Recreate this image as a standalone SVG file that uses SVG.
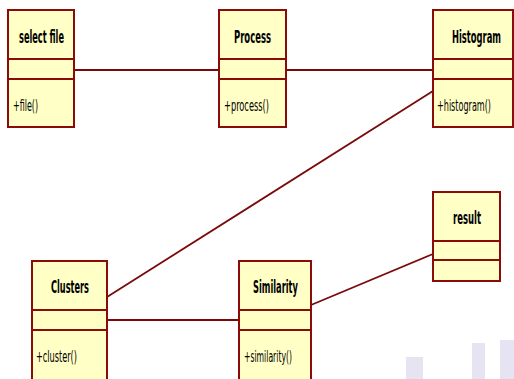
<svg xmlns="http://www.w3.org/2000/svg" width="514" height="379" viewBox="0 0 514 379">
<style>
.box{fill:#ffffc6;stroke:#8b0a0a;stroke-width:2}
.div{stroke:#8b0a0a;stroke-width:2}
.conn{stroke:#7a0a0a;stroke-width:1.8;fill:none}
.t{font-family:"DejaVu Sans Condensed","DejaVu Sans",sans-serif;font-weight:bold;font-size:18px;fill:#000}
.m{font-family:"DejaVu Sans Condensed","DejaVu Sans",sans-serif;font-size:16px;fill:#000}
</style>
<rect width="514" height="379" fill="#ffffff"/>
<g id="background" fill="#e6e4f3">
<rect x="406" y="357" width="17" height="22"/>
<rect x="472" y="343" width="13" height="36"/>
<rect x="500" y="340" width="14" height="39"/>
</g>
<g id="connectors">
<line class="conn" x1="74" y1="70" x2="219" y2="70"/>
<line class="conn" x1="286" y1="70" x2="433" y2="70"/>
<line class="conn" x1="107" y1="297" x2="433" y2="91"/>
<line class="conn" x1="107" y1="320" x2="239" y2="320"/>
<line class="conn" x1="311" y1="305" x2="433" y2="254"/>
</g>
<g id="select-file">
<rect class="box" x="8" y="10" width="66" height="117"/>
<line class="div" x1="8" y1="59" x2="74" y2="59"/>
<line class="div" x1="8" y1="79" x2="74" y2="79"/>
<text class="t" transform="scale(0.5,1)" x="38" y="43" textLength="90" lengthAdjust="spacingAndGlyphs">select file</text>
<text class="m" transform="scale(0.5,1)" x="26" y="111" textLength="50" lengthAdjust="spacingAndGlyphs">+file()</text>
</g>
<g id="process">
<rect class="box" x="219" y="10" width="67" height="117"/>
<line class="div" x1="219" y1="59" x2="286" y2="59"/>
<line class="div" x1="219" y1="79" x2="286" y2="79"/>
<text class="t" transform="scale(0.5,1)" x="468" y="43" textLength="74" lengthAdjust="spacingAndGlyphs">Process</text>
<text class="m" transform="scale(0.5,1)" x="448" y="111" textLength="90" lengthAdjust="spacingAndGlyphs">+process()</text>
</g>
<g id="histogram">
<rect class="box" x="433" y="10" width="80" height="117"/>
<line class="div" x1="433" y1="59" x2="513" y2="59"/>
<line class="div" x1="433" y1="79" x2="513" y2="79"/>
<text class="t" transform="scale(0.5,1)" x="904" y="43" textLength="98" lengthAdjust="spacingAndGlyphs">Histogram</text>
<text class="m" transform="scale(0.5,1)" x="874" y="111" textLength="108" lengthAdjust="spacingAndGlyphs">+histogram()</text>
</g>
<g id="result">
<rect class="box" x="433" y="192" width="67" height="89"/>
<line class="div" x1="433" y1="241" x2="500" y2="241"/>
<line class="div" x1="433" y1="260" x2="500" y2="260"/>
<text class="t" transform="scale(0.5,1)" x="906" y="224" textLength="56" lengthAdjust="spacingAndGlyphs">result</text>
</g>
<g id="clusters">
<rect class="box" x="32" y="261" width="75" height="120"/>
<line class="div" x1="32" y1="310" x2="107" y2="310"/>
<line class="div" x1="32" y1="330" x2="107" y2="330"/>
<text class="t" transform="scale(0.5,1)" x="102" y="293" textLength="76" lengthAdjust="spacingAndGlyphs">Clusters</text>
<text class="m" transform="scale(0.5,1)" x="72" y="362" textLength="82" lengthAdjust="spacingAndGlyphs">+cluster()</text>
</g>
<g id="similarity">
<rect class="box" x="239" y="261" width="72" height="120"/>
<line class="div" x1="239" y1="310" x2="311" y2="310"/>
<line class="div" x1="239" y1="330" x2="311" y2="330"/>
<text class="t" transform="scale(0.5,1)" x="506" y="293" textLength="90" lengthAdjust="spacingAndGlyphs">Similarity</text>
<text class="m" transform="scale(0.5,1)" x="488" y="362" textLength="96" lengthAdjust="spacingAndGlyphs">+similarity()</text>
</g>
</svg>
